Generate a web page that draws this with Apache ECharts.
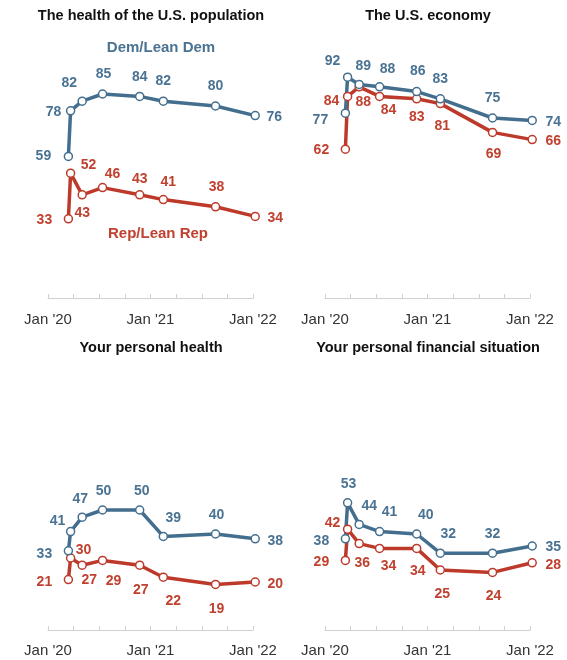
<!DOCTYPE html>
<html><head><meta charset="utf-8">
<script src="https://cdn.jsdelivr.net/npm/echarts@6/dist/echarts.min.js"></script>
<style>html,body{margin:0;padding:0;background:#fff}#c{width:567px;height:660px}</style>
</head><body><div id="c"></div>
<script>
// ---- data ----
const surveyDates = ['2020-03-13','2020-03-21','2020-05-01','2020-07-13','2020-11-23','2021-02-15','2021-08-20','2022-01-09'];
const panelTitles = ['The health of the U.S. population','The U.S. economy','Your personal health','Your personal financial situation'];
const xTickLabels = {0: "Jan '20", 12: "Jan '21", 24: "Jan '22"};
const seriesNames = ['Dem/Lean Dem','Rep/Lean Rep'];

const demPopHealth  = [59, 78, 82, 85, 84, 82, 80, 76];
const repPopHealth  = [33, 52, 43, 46, 43, 41, 38, 34];
const demEconomy    = [77, 92, 89, 88, 86, 83, 75, 74];
const repEconomy    = [62, 84, 88, 84, 83, 81, 69, 66];
const demOwnHealth  = [33, 41, 47, 50, 50, 39, 40, 38];
const repOwnHealth  = [21, 30, 27, 29, 27, 22, 19, 20];
const demFinances   = [38, 53, 44, 41, 40, 32, 32, 35];
const repFinances   = [29, 42, 36, 34, 34, 25, 24, 28];

const panelData = [
  [demPopHealth, repPopHealth],
  [demEconomy, repEconomy],
  [demOwnHealth, repOwnHealth],
  [demFinances, repFinances]
];

// ---- style / layout ----
const BLUE = '#436e8e', RED = '#bd3a2b';
const BLUE_TXT = '#4a7393', RED_TXT = '#c0412f';
const FONT = '"Liberation Sans", Arial, sans-serif';

const grids = [
  {left: 48,  top: 58,  width: 205, height: 240},
  {left: 325, top: 58,  width: 205, height: 240},
  {left: 48,  top: 390, width: 205, height: 240},
  {left: 325, top: 390, width: 205, height: 240}
];
const axisOffsets = [3, 3, 2, 2];
const titlePos = [[151, 16], [428, 16], [151, 348], [428, 348]];

// label offsets relative to each point (dem, rep) per panel
const labelOffsets = [
  [
    [[-25,0],[-17,1],[-13,-18],[1,-20],[0,-19],[0,-20],[0,-20],[19,2]],
    [[-24,1],[18,-8],[0,18],[10,-13],[0,-16],[5,-17],[1,-20],[20,2]]
  ],
  [
    [[-25,7],[-15,-16],[4,-18],[8,-18],[1,-20],[0,-20],[0,-20],[21,2]],
    [[-24,1],[-16,5],[4,15],[9,14],[0,18],[2,23],[1,22],[21,2]]
  ],
  [
    [[-24,3],[-13,-10],[-2,-18],[1,-19],[2,-19],[10,-18],[1,-19],[20,2]],
    [[-24,3],[13,-8],[7,15],[11,21],[1,25],[10,24],[1,25],[20,2]]
  ],
  [
    [[-24,2],[1,-19],[10,-18],[10,-19],[9,-19],[8,-19],[0,-19],[21,1]],
    [[-24,2],[-15,-6],[3,20],[9,18],[1,23],[2,24],[1,24],[21,2]]
  ]
];

function monthsSinceJan2020(s) {
  const [y, m, d] = s.split('-').map(Number);
  const dim = new Date(y, m, 0).getDate();
  return (y - 2020) * 12 + (m - 1) + (d - 1) / dim;
}
const xVals = surveyDates.map(monthsSinceJan2020);

const chart = echarts.init(document.getElementById('c'), null, {renderer: 'canvas'});

const xAxes = grids.map((g, i) => ({
  type: 'value', gridIndex: i, min: 0, max: 24, interval: 3,
  offset: axisOffsets[i],
  splitLine: {show: false},
  axisLine: {show: true, lineStyle: {color: '#d0d0d0', width: 1}},
  axisTick: {show: true, inside: true, length: 4, lineStyle: {color: '#d0d0d0'}},
  axisLabel: {
    show: true, margin: 11, color: '#333', fontSize: 15, fontFamily: FONT,
    formatter: v => xTickLabels[v] || ''
  }
}));
const yAxes = grids.map((g, i) => ({
  type: 'value', gridIndex: i, min: 0, max: 100, show: false, splitLine: {show: false}
}));

const series = [];
panelData.forEach((pair, p) => {
  // draw Rep first so Dem sits on top
  [1, 0].forEach(k => {
    const col = k === 0 ? BLUE : RED;
    const txt = k === 0 ? BLUE_TXT : RED_TXT;
    series.push({
      type: 'line', name: seriesNames[k], xAxisIndex: p, yAxisIndex: p,
      clip: false, silent: true,
      symbol: 'circle', symbolSize: 8,
      lineStyle: {color: col, width: 3.5},
      itemStyle: {color: '#fff', borderColor: col, borderWidth: 1.5},
      label: {
        show: true, position: 'inside', color: txt,
        fontSize: 14, fontWeight: 'bold', fontFamily: FONT,
        formatter: d => d.value[1]
      },
      data: pair[k].map((v, j) => ({
        value: [xVals[j], v],
        label: {offset: labelOffsets[p][k][j]}
      }))
    });
  });
});

const graphics = panelTitles.map((t, i) => ({
  type: 'text', x: titlePos[i][0], y: titlePos[i][1], silent: true,
  style: {text: t, fill: '#111', font: 'bold 14.5px ' + FONT,
          align: 'center', verticalAlign: 'middle', textAlign: 'center', textVerticalAlign: 'middle'}
}));
graphics.push({
  type: 'text', x: 161, y: 48, silent: true,
  style: {text: seriesNames[0], fill: BLUE_TXT, font: 'bold 15px ' + FONT,
          align: 'center', verticalAlign: 'middle', textAlign: 'center', textVerticalAlign: 'middle'}
});
graphics.push({
  type: 'text', x: 158, y: 234, silent: true,
  style: {text: seriesNames[1], fill: RED_TXT, font: 'bold 15px ' + FONT,
          align: 'center', verticalAlign: 'middle', textAlign: 'center', textVerticalAlign: 'middle'}
});

chart.setOption({
  animation: false,
  backgroundColor: '#fff',
  grid: grids,
  xAxis: xAxes,
  yAxis: yAxes,
  series: series,
  graphic: graphics
});
</script>
</body></html>
